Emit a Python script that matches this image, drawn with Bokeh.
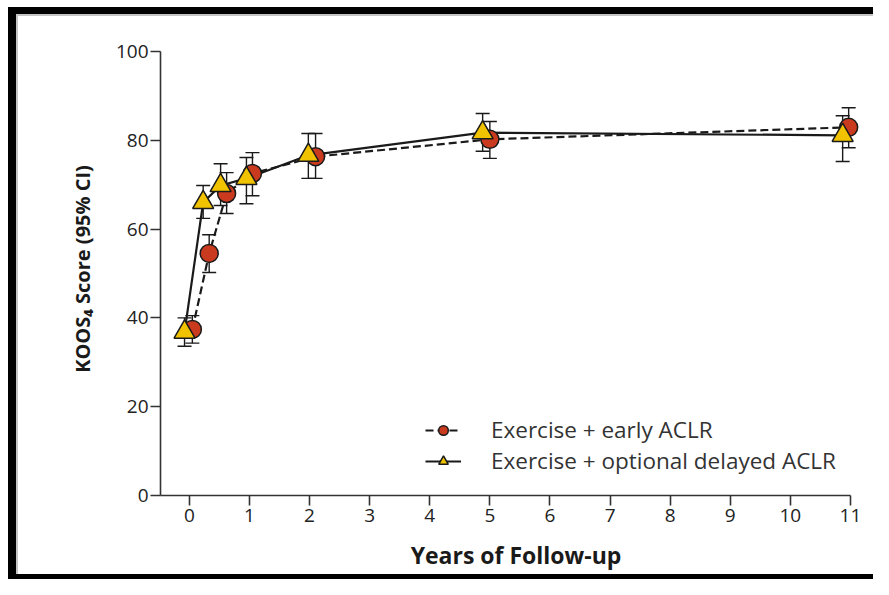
from bokeh.plotting import figure
from bokeh.models import (ColumnDataSource, Range1d, Legend, LegendItem,
                          FixedTicker, Whisker, TeeHead)
from bokeh.embed import file_html
from bokeh.resources import INLINE

# ---- data ----
early_x = [0.05, 0.33, 0.62, 1.05, 2.10, 5.00, 10.97]
early_y = [37.4, 54.5, 68.0, 72.5, 76.3, 80.2, 82.9]
early_lo = [34.3, 50.2, 63.5, 67.5, 71.4, 75.9, 78.3]
early_hi = [40.5, 58.7, 72.7, 77.2, 81.5, 84.2, 87.3]

delayed_x = [-0.08, 0.23, 0.52, 0.95, 1.98, 4.88, 10.87]
delayed_y = [36.8, 66.0, 69.8, 71.4, 76.6, 81.7, 81.1]
delayed_lo = [33.6, 62.4, 65.3, 65.7, 71.4, 77.5, 75.2]
delayed_hi = [40.0, 69.8, 74.7, 76.1, 81.5, 86.0, 85.5]

x_ticks = [0, 1, 2, 3, 4, 5, 6, 7, 8, 9, 10, 11]
y_ticks = [0, 20, 40, 60, 80, 100]

FONT = "Open Sans"
RED = "#c93a1e"
YEL = "#f0c200"
INK = "#1a1a1a"

W, H = 873, 579
p = figure(width=W, height=H, output_backend="svg", toolbar_location=None,
           x_range=Range1d(-0.48, 11.35), y_range=Range1d(0, 102),
           min_border_left=160, min_border_right=2, min_border_top=42,
           min_border_bottom=84)
# picture frame (black bars left/top/bottom with a thin grey inner line)
p.styles = {"background-color": "white",
            "box-shadow": ("inset 8px 0 0 0 white, inset 0 7px 0 0 white, "
                           "inset 16px 0 0 0 black, inset 0 14px 0 0 black, "
                           "inset 0 -5px 0 0 black, "
                           "inset 18px 0 0 0 #c4c4c4, inset 0 16px 0 0 #c4c4c4")}
p.outline_line_color = None
p.grid.grid_line_color = None
p.background_fill_alpha = 0
p.border_fill_alpha = 0

for ax in (p.xaxis[0], p.yaxis[0]):
    ax.axis_line_color = "#333333"
    ax.axis_line_width = 1.6
    ax.major_tick_line_color = "#333333"
    ax.major_tick_line_width = 1.6
    ax.major_tick_in = 0
    ax.minor_tick_line_color = None
    ax.major_label_text_font = FONT
    ax.major_label_text_font_size = "19px"
    ax.major_label_text_color = "#222222"
    ax.axis_label_text_font = FONT
    ax.axis_label_text_font_style = "bold"
    ax.axis_label_text_color = "#1a1a1a"

p.xaxis.ticker = FixedTicker(ticks=x_ticks)
p.yaxis.ticker = FixedTicker(ticks=y_ticks)
p.xaxis.bounds = (-0.48, 11)
p.yaxis.bounds = (0, 100)
p.xaxis.major_tick_out = 10
p.yaxis.major_tick_out = 10
p.xaxis.major_label_standoff = 3
p.yaxis.major_label_standoff = 2
p.xaxis.axis_label = "Years of Follow-up"
p.xaxis.axis_label_text_font_size = "23px"
p.xaxis.axis_label_standoff = 14
p.yaxis.axis_label = "KOOS\u2084 Score (95% CI)"
p.yaxis.axis_label_text_font_size = "20px"
p.yaxis.axis_label_standoff = 17

src_e = ColumnDataSource(dict(x=early_x, y=early_y, lo=early_lo, hi=early_hi))
src_d = ColumnDataSource(dict(x=delayed_x, y=delayed_y, lo=delayed_lo, hi=delayed_hi))

for src in (src_e, src_d):
    w = Whisker(source=src, base="x", upper="hi", lower="lo", dimension="height",
                line_color=INK, line_width=1.4,
                upper_head=TeeHead(size=14, line_color=INK, line_width=1.4),
                lower_head=TeeHead(size=14, line_color=INK, line_width=1.4),
                level="underlay")
    p.add_layout(w)

le = p.line("x", "y", source=src_e, line_color=INK, line_width=2.2, line_dash="8 4")
ld = p.line("x", "y", source=src_d, line_color=INK, line_width=2.2)
se = p.scatter("x", "y", source=src_e, marker="circle", size=18, fill_color=RED,
               line_color=INK, line_width=1.5)
sd = p.scatter("x", "y", source=src_d, marker="triangle", size=21, fill_color=YEL,
               line_color=INK, line_width=1.5)

legend = Legend(items=[LegendItem(label="Exercise + early ACLR", renderers=[le, se]),
                       LegendItem(label="Exercise + optional delayed ACLR", renderers=[ld, sd])],
                location=(265, 19), padding=0, margin=0, spacing=0,
                glyph_width=36, glyph_height=24, label_height=24, label_standoff=30,
                label_text_font=FONT, label_text_font_size="22.5px",
                label_text_color="#333333", border_line_alpha=0,
                background_fill_alpha=0)
p.add_layout(legend)

open("out.html", "w").write(file_html(p, INLINE))
